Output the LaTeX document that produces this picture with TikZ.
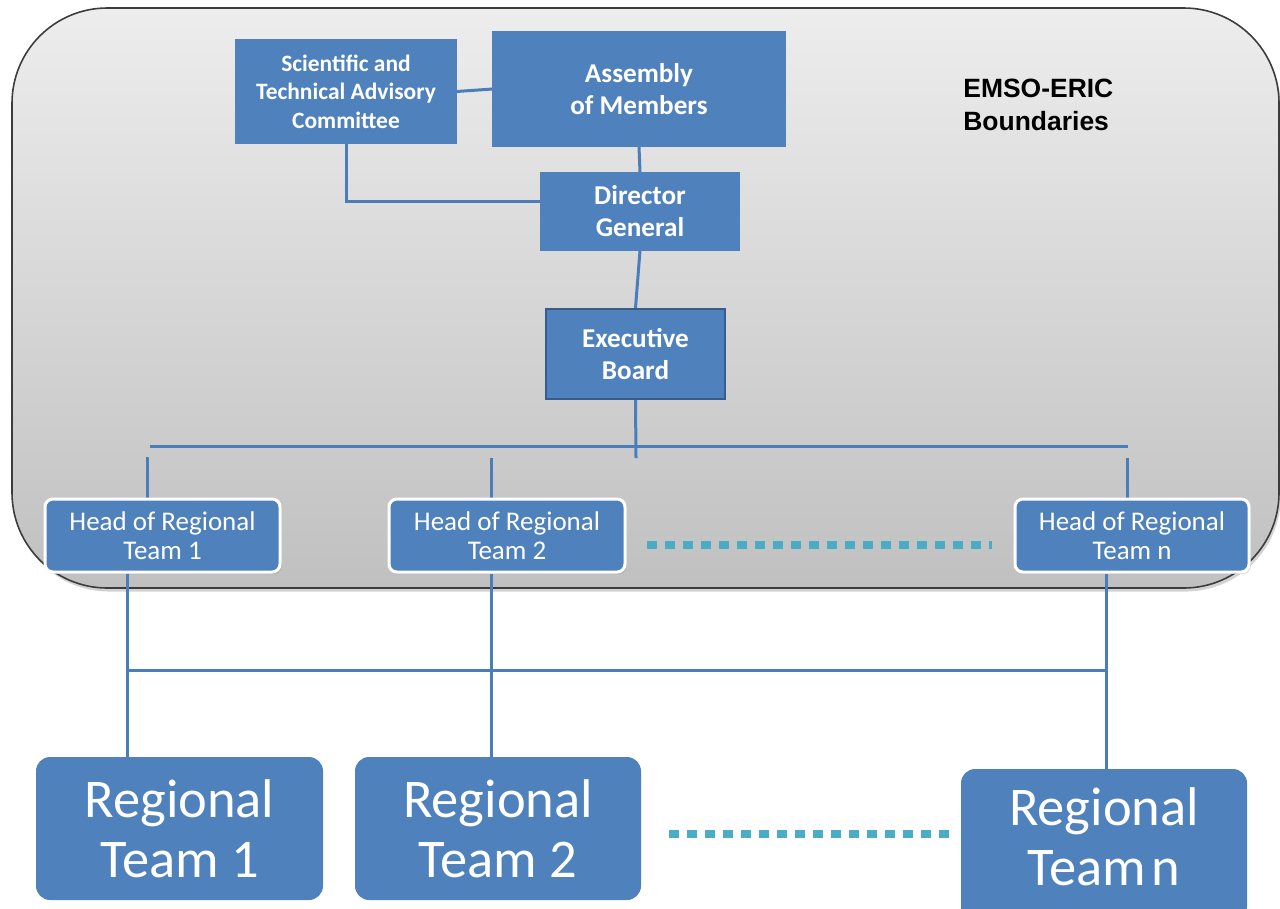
\documentclass[tikz,border=0pt]{standalone}
\usepackage{fontspec}
\setmainfont{Carlito}
\newfontfamily\arialfont{Liberation Sans}
\usetikzlibrary{shadows,backgrounds}
\definecolor{boxblue}{HTML}{4F81BD}
\definecolor{boxedge}{HTML}{385D8A}
\definecolor{linkblue}{HTML}{4A7EBB}
\definecolor{dotteal}{HTML}{4BACC6}
\definecolor{frameedge}{HTML}{3C3C3C}
\definecolor{frametop}{HTML}{EDEDED}
\definecolor{framebot}{HTML}{C0C0C0}
\begin{document}
\begin{tikzpicture}[x=0.5669pt, y=-0.5669pt,
  boxsize/.style 2 args={minimum width=#1*0.5669pt, minimum height=#2*0.5669pt},
  govbox/.style={fill=boxblue, draw=boxblue, line width=0.6pt, text=white, align=center, inner sep=0pt},
  smallbold/.style={font=\bfseries\fontsize{13.3}{16.2}\selectfont},
  bigbold/.style={font=\bfseries\fontsize{15.4}{18.1}\selectfont},
  headbox/.style={fill=boxblue, draw=white, line width=1.7pt, rounded corners=4.5pt,
    text=white, align=center, inner sep=0pt, font=\fontsize{15.3}{16.4}\selectfont,
    drop shadow={opacity=0.25, shadow xshift=1pt, shadow yshift=-1.2pt}},
  teambox/.style={fill=boxblue, rounded corners=8pt, text=white, align=center,
    inner sep=0pt, font=\fontsize{30.9}{34}\selectfont},
  link/.style={draw=linkblue, line width=1.7pt},
  dotrow/.style={draw=dotteal, line width=4.5pt, dash pattern=on 5.67pt off 4.54pt}
]
\useasboundingbox (0,0) rectangle (1280,908);

% governance boxes
\node[govbox, smallbold, boxsize={220}{103}] (sci) at (346,91.5)
  {Scientific and\\Technical Advisory\\Committee};
\node[govbox, bigbold, boxsize={292}{114}] (asm) at (639,89) {Assembly\\of Members};
\node[govbox, bigbold, boxsize={198}{77}] (dir) at (640,211.5) {Director\\General};
\node[govbox, bigbold, draw=boxedge, line width=1.3pt, boxsize={179}{90}] (exe) at (635.5,354)
  {Executive\\Board};

\node[anchor=west, align=left, inner sep=0pt,
      font=\arialfont\bfseries\fontsize{15}{18.7}\selectfont] (emso)
  at (963,104.5) {EMSO-ERIC\\Boundaries};

% heads of regional teams
\node[headbox, boxsize={235}{73}] (h1) at (162.5,535.5) {Head of Regional\\Team 1};
\node[headbox, boxsize={236}{73}] (h2) at (507,535.5) {Head of Regional\\Team 2};
\node[headbox, boxsize={234}{73}] (hn) at (1132,535.5) {Head of Regional\\Team n};

% regional teams
\node[teambox, boxsize={287}{143}] (r1) at (179.5,828.5) {Regional\\Team 1};
\node[teambox, boxsize={286}{143}] (r2) at (498,828.5) {Regional\\Team 2};
\node[teambox, boxsize={286}{152}, text depth=0pt] (rn) at (1104,845) {};
\node[text=white, align=center, inner sep=0pt, font=\fontsize{30.9}{34}\selectfont] (rntext)
  at (1104,837) {Regional\\Team\kern0.1em n};

% helper points for the bus lines
\coordinate (busend) at (636,458);
\coordinate (busL) at (150,446);
\coordinate (busR) at (1128,446);
\coordinate (s1) at (147,457);
\coordinate (s2) at (491,458);
\coordinate (sn) at (1127,458);
\coordinate (d1) at (127,670);
\coordinate (d2) at (491,670);
\coordinate (dn) at (1106,670);
\coordinate (dotA1) at (647,545);
\coordinate (dotA2) at (992,545);
\coordinate (dotB1) at (669,834);
\coordinate (dotB2) at (955,834);

\begin{scope}[on background layer]
  % organisation boundary
  \path[draw=frameedge, line width=0.9pt, rounded corners=54pt,
        top color=frametop, bottom color=framebot,
        drop shadow={opacity=0.35, shadow xshift=1pt, shadow yshift=-2pt}]
    (12,8) rectangle (1279,588);

  \draw[link] (sci.east) -- (asm.west);
  \draw[link] (asm.south) -- (dir.north);
  \draw[link] (sci.south) |- ([yshift=5.7pt]dir.west);
  \draw[link] (dir.south) -- (exe.north);
  \draw[link] (exe.south) -- (busend);
  \draw[link] (busL) -- (busR);
  \draw[link] (s1) -- (s1 |- h1.north);
  \draw[link] (s2) -- (s2 |- h2.north);
  \draw[link] (sn) -- (sn |- hn.north);

  \draw[link] (d1 |- h1.south) -- (d1 |- r1.north);
  \draw[link] (d2 |- h2.south) -- (d2 |- r2.north);
  \draw[link] (dn |- hn.south) -- (dn |- rn.north);
  \draw[link] (d1) -- (dn);
\end{scope}

\draw[dotrow] (dotA1) -- (dotA2);
\draw[dotrow] (dotB1) -- (dotB2);
\end{tikzpicture}
\end{document}
